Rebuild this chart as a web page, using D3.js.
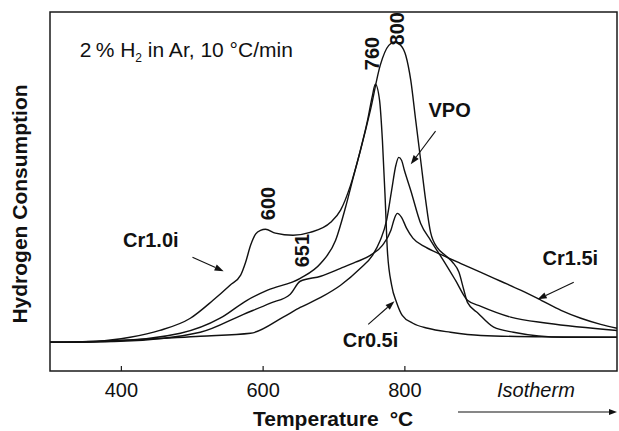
<!DOCTYPE html>
<html lang="en">
<head>
<meta charset="UTF-8">
<title>TPR profiles</title>
<script src="https://cdn.jsdelivr.net/npm/d3@7"></script>
<style>
  body { margin: 0; background: #fff; }
  text { font-family: "Liberation Sans", Arial, Helvetica, sans-serif; fill: #111; }
  .lbl { font-weight: bold; font-size: 20px; }
  .curve { fill: none; stroke: #111; stroke-width: 1.4; }
</style>
</head>
<body>
<script>
// temperature (°C) vs H2 signal (arb. units)
var seriesNames = ["Cr0.5i", "Cr1.0i", "Cr1.5i", "VPO"];

var cr05T = [300, 385, 484, 540, 578, 607, 653, 682, 703, 717, 728, 738, 748, 755, 759, 765, 769, 773, 776, 782, 789, 797, 812, 833, 865, 908, 1000, 1100];
var cr05H = [0, 0.3, 2.5, 6.7, 11.7, 14.5, 17.8, 22.0, 28.4, 37.6, 46.0, 53.5, 61.8, 68.8, 71.9, 67.4, 56.3, 39.6, 25.6, 15.9, 11.1, 7.5, 5.3, 3.9, 2.8, 1.9, 1.5, 1.4];

var cr10T = [300, 366, 413, 455, 498, 530, 554, 569, 576, 583, 590, 597, 604, 618, 643, 667, 696, 710, 724, 738, 752, 766, 778, 786, 795, 802, 809, 816, 823, 830, 837, 847, 858, 868, 877, 884, 889, 904, 926, 954, 1025, 1100];
var cr10H = [0, 0.3, 1.4, 3.3, 6.7, 11.7, 15.9, 18.7, 22.3, 27.0, 30.1, 31.2, 31.5, 30.4, 29.8, 30.6, 33.4, 36.8, 43.7, 53.5, 64.6, 77.2, 82.7, 83.6, 82.7, 79.9, 73.0, 61.8, 50.7, 39.6, 30.6, 26.2, 24.2, 22.3, 19.5, 14.5, 11.1, 8.1, 4.2, 2.8, 1.4, 1.4];

var cr15T = [300, 399, 512, 573, 611, 639, 653, 682, 710, 731, 752, 769, 781, 786, 790, 796, 803, 812, 830, 851, 879, 908, 936, 964, 993, 1021, 1049, 1077, 1100];
var cr15H = [0, 0.3, 2.8, 7.8, 10.9, 13.4, 17.0, 18.4, 20.6, 22.3, 24.2, 27.0, 31.2, 34.5, 35.9, 34.8, 31.8, 29.0, 26.5, 24.5, 22.0, 19.5, 17.0, 14.5, 11.7, 8.9, 6.7, 5.0, 3.9];

var vpoT = [300, 371, 512, 583, 629, 653, 682, 710, 738, 755, 766, 775, 782, 788, 792, 796, 800, 809, 823, 837, 855, 872, 889, 908, 950, 1002, 1100];
var vpoH = [0, 0.3, 1.7, 2.5, 7.0, 9.7, 12.5, 15.9, 20.6, 24.2, 28.4, 34.0, 42.3, 49.3, 51.5, 50.7, 47.9, 42.3, 33.1, 28.4, 22.8, 17.3, 11.7, 10.0, 7.0, 5.3, 3.3];

var xTicks = [400, 600, 800];
var peakLabels = ["600", "651", "760", "800"];

// where the notes sit, in data units
var peakPos = [[618, 34.0], [665, 20.9], [764, 75.8], [799, 82.7]];
var namePos = [[713, -1.4], [403, 26.5], [995, 21.4], [834, 62.7]];
var arrowPos = [
  [[749, 5.0], [786, 11.4]],
  [[501, 23.7], [545, 19.8]],
  [[1039, 16.7], [988, 12.0]],
  [[844, 58.8], [809, 49.6]]
];

var width = 619, height = 431;
var svg = d3.select("body").append("svg")
  .attr("width", width).attr("height", height);

var x = d3.scaleLinear().domain([300, 1100]).range([50, 617]);
var y = d3.scaleLinear().domain([-8, 92]).range([371, 12]);

var series = [
  d3.zip(cr05T, cr05H),
  d3.zip(cr10T, cr10H),
  d3.zip(cr15T, cr15H),
  d3.zip(vpoT, vpoH)
];

var line = d3.line()
  .x(d => x(d[0]))
  .y(d => y(d[1]))
  .curve(d3.curveMonotoneX);

svg.append("g").selectAll("path").data(series).enter()
  .append("path")
  .attr("class", "curve")
  .attr("d", line);

// frame
svg.append("rect")
  .attr("x", x.range()[0]).attr("y", y.range()[1])
  .attr("width", x.range()[1] - x.range()[0])
  .attr("height", y.range()[0] - y.range()[1])
  .attr("fill", "none").attr("stroke", "#1a1a1a").attr("stroke-width", 1.5);

var xAxis = svg.append("g")
  .attr("transform", "translate(0," + y.range()[0] + ")")
  .call(d3.axisBottom(x).tickValues(xTicks).tickSize(-5).tickPadding(12));
xAxis.select(".domain").remove();
xAxis.selectAll("line").attr("stroke", "#1a1a1a").attr("stroke-width", 1.2);
xAxis.selectAll("text").style("font-size", "20px")
  .style("font-family", '"Liberation Sans", Arial, sans-serif').attr("fill", "#111");

// axis titles
svg.append("text").attr("class", "lbl").style("font-size", "21px")
  .attr("transform", "translate(27,204) rotate(-90)")
  .attr("text-anchor", "middle")
  .text("Hydrogen Consumption");

var xt = svg.append("text").attr("class", "lbl").style("font-size", "21px")
  .attr("x", 253).attr("y", 426);
xt.append("tspan").text("Temperature");
xt.append("tspan").attr("dx", 11).text("°C");

svg.append("text").attr("x", 497).attr("y", 397)
  .style("font-size", "20px").style("font-style", "italic").text("Isotherm");

function arrow(x1, y1, x2, y2, len, half) {
  var a = Math.atan2(y2 - y1, x2 - x1);
  var bx = x2 - len * Math.cos(a), by = y2 - len * Math.sin(a);
  svg.append("line").attr("x1", x1).attr("y1", y1).attr("x2", bx).attr("y2", by)
    .attr("stroke", "#111").attr("stroke-width", 1.1);
  var px = -Math.sin(a) * half, py = Math.cos(a) * half;
  svg.append("path")
    .attr("d", "M" + x2 + "," + y2 + "L" + (bx + px) + "," + (by + py) + "L" + (bx - px) + "," + (by - py) + "Z")
    .attr("fill", "#111");
}

// isotherm arrow runs under the axis
arrow(458, 412, 617, 412, 8, 3);

arrowPos.forEach(function (p) {
  arrow(x(p[0][0]), y(p[0][1]), x(p[1][0]), y(p[1][1]), 9, 3.2);
});

// series names
svg.append("g").selectAll("text").data(seriesNames).enter()
  .append("text").attr("class", "lbl")
  .attr("x", (d, i) => x(namePos[i][0]))
  .attr("y", (d, i) => y(namePos[i][1]))
  .text(d => d);

// peak temperatures, written upward
svg.append("g").selectAll("text").data(peakLabels).enter()
  .append("text").attr("class", "lbl")
  .attr("transform", (d, i) => "translate(" + x(peakPos[i][0]) + "," + y(peakPos[i][1]) + ") rotate(-90)")
  .text(d => d);

// conditions note
var note = svg.append("text").attr("x", x(342)).attr("y", y(79.4)).style("font-size", "21px");
note.append("tspan").text("2\u2009% H");
note.append("tspan").attr("dy", 5).style("font-size", "12px").text("2");
note.append("tspan").attr("dy", -5).text(" in Ar, 10 °C/min");
</script>
</body>
</html>
